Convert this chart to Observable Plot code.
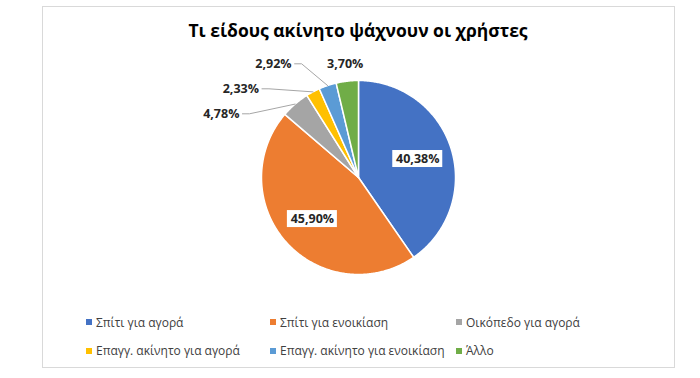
<!DOCTYPE html>
<html><head><meta charset="utf-8">
<script src="https://cdn.jsdelivr.net/npm/d3@7"></script>
<script src="https://cdn.jsdelivr.net/npm/@observablehq/plot@0.6"></script>
<style>
body{margin:0;background:#fff;font-family:"Open Sans",sans-serif;}
#wrap{position:relative;width:700px;height:378px;overflow:hidden;background:#fff;}
#frame{position:absolute;left:42px;top:6px;width:633px;height:362px;border:1px solid #d9d9d9;box-sizing:border-box;}
#title{position:absolute;left:0;top:18px;width:716px;text-align:center;font-weight:bold;font-size:17.5px;line-height:24px;color:#000;}
#chart{position:absolute;left:0;top:50px;}
#legend{position:absolute;left:86px;top:308px;display:grid;grid-template-columns:184px 186px 190px;grid-auto-rows:28.5px;font-size:12px;color:#404040;}
.item{display:flex;align-items:center;white-space:nowrap;}
.sw{width:6px;height:6px;margin-right:4px;flex:none;}
</style></head>
<body>
<div id="wrap">
  <div id="frame"></div>
  <div id="title">Τι είδους ακίνητο ψάχνουν οι χρήστες</div>
  <div id="chart"></div>
  <div id="legend"></div>
</div>
<script>
const categories = ["Σπίτι για αγορά","Σπίτι για ενοικίαση","Οικόπεδο για αγορά","Επαγγ. ακίνητο για αγορά","Επαγγ. ακίνητο για ενοικίαση","Άλλο"];
const shares = [40.38, 45.90, 4.78, 2.33, 2.92, 3.70];
const labels = ["40,38%","45,90%","4,78%","2,33%","2,92%","3,70%"];
const colors = ["#4472C4","#ED7D31","#A5A5A5","#FFC000","#5B9BD5","#70AD47"];

// layout
const W = 700, H = 255, R = 97, CX = 358, CY = 127;
const px = v => v / R;

const arcs = d3.pie().sort(null).value(d => d)(shares);
const P = (a, r) => [r * Math.sin(a), r * Math.cos(a)];

// slice polygons
const slicePts = [];
arcs.forEach((a, i) => {
  slicePts.push({cat: categories[i], x: 0, y: 0});
  const n = Math.max(4, Math.ceil((a.endAngle - a.startAngle) / 0.01));
  for (let k = 0; k <= n; k++) {
    const t = a.startAngle + (a.endAngle - a.startAngle) * k / n;
    const [x, y] = P(t, 1);
    slicePts.push({cat: categories[i], x, y});
  }
  slicePts.push({cat: categories[i], x: 0, y: 0});
});

// inside labels
const inside = [], outsideMid = [], outsideEnd = [], leaders = [];
arcs.forEach((a, i) => {
  const mid = (a.startAngle + a.endAngle) / 2;
  if (shares[i] >= 5) {
    const [x, y] = P(mid, 0.64);
    inside.push({x, y, text: labels[i]});
  }
});
// outside labels, from slice nearest 12 o'clock going counter-clockwise
const small = arcs.map((a, i) => i).filter(i => shares[i] < 5).reverse();
let firstY = 0;
small.forEach((i, k) => {
  const a = arcs[i];
  const mid = (a.startAngle + a.endAngle) / 2;
  if (k === 0) {
    const [x, y] = P(mid, 1.18);
    firstY = y;
    outsideMid.push({x, y, text: labels[i]});
  } else {
    const y = firstY - (k - 1) * px(25);
    const xc = -1.6 * Math.sqrt(Math.max(0, 1 - (y / 1.4) ** 2));
    const right = xc + px(18);
    outsideEnd.push({x: right, y, text: labels[i]});
    const [ex, ey] = P(mid, 1.0);
    leaders.push({cat: categories[i], x: right + px(3), y});
    leaders.push({cat: categories[i], x: right + px(10), y});
    leaders.push({cat: categories[i], x: ex, y: ey});
  }
});

const chart = Plot.plot({
  width: W, height: H,
  marginTop: 0, marginRight: 0, marginBottom: 0, marginLeft: 0,
  x: {domain: [-CX / R, (W - CX) / R], axis: null},
  y: {domain: [-(H - CY) / R, CY / R], axis: null},
  color: {domain: categories, range: colors},
  style: {fontFamily: "'Open Sans', sans-serif", background: "transparent", overflow: "visible"},
  marks: [
    Plot.line(slicePts, {x: "x", y: "y", z: "cat", fill: "cat", stroke: "white", strokeWidth: 1.5, curve: "linear"}),
    Plot.line(leaders, {x: "x", y: "y", z: "cat", stroke: "#a6a6a6", strokeWidth: 1}),
    Plot.rect(inside, {x1: d => d.x - px(25), x2: d => d.x + px(25), y1: d => d.y - px(8.5), y2: d => d.y + px(8.5), fill: "white"}),
    Plot.text(inside, {x: "x", y: "y", text: "text", fontSize: 12.5, fontWeight: "bold", fill: "#262626"}),
    Plot.text(outsideMid, {x: "x", y: "y", text: "text", fontSize: 12.5, fontWeight: "bold", fill: "#262626"}),
    Plot.text(outsideEnd, {x: "x", y: "y", text: "text", textAnchor: "end", fontSize: 12.5, fontWeight: "bold", fill: "#262626"})
  ]
});
document.getElementById("chart").appendChild(chart);

const legend = document.getElementById("legend");
categories.forEach((c, i) => {
  const it = document.createElement("div");
  it.className = "item";
  const sw = document.createElement("span");
  sw.className = "sw";
  sw.style.background = colors[i];
  const tx = document.createElement("span");
  tx.textContent = c;
  it.appendChild(sw); it.appendChild(tx);
  legend.appendChild(it);
});
</script>
</body></html>
